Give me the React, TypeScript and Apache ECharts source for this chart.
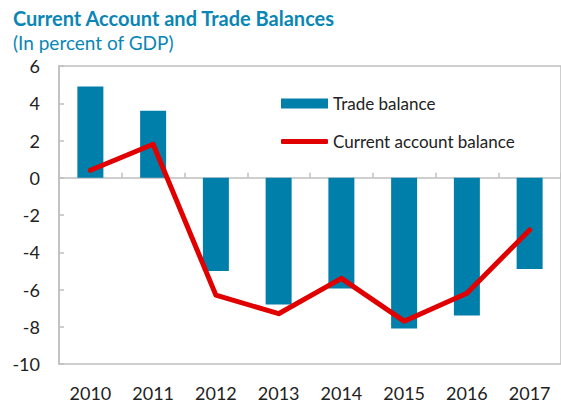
import React, { useEffect, useRef } from "react";
import * as echarts from "echarts";

const years = ["2010", "2011", "2012", "2013", "2014", "2015", "2016", "2017"];
const tradeBalance = [4.9, 3.6, -5.0, -6.8, -5.95, -8.1, -7.4, -4.9];
const currentAccount = [0.4, 1.8, -6.3, -7.3, -5.4, -7.7, -6.2, -2.8];

const FONT = "Lato, 'Open Sans', sans-serif";
const AXIS_GRAY = "#BFBFBF";
const BAR_BLUE = "#007FAA";
const LINE_RED = "#E00000";
const TITLE_BLUE = "#0A86B6";

export default function App() {
  const ref = useRef<HTMLDivElement>(null);

  useEffect(() => {
    if (!ref.current) return;
    const chart = echarts.init(ref.current, undefined, { renderer: "svg" });
    const legendText = { fontFamily: FONT, fontSize: 17, color: "#222" };
    chart.setOption({
      animation: false,
      backgroundColor: "#ffffff",
      textStyle: { fontFamily: FONT },
      title: {
        text: "Current Account and Trade Balances",
        subtext: "(In percent of GDP)",
        left: 8,
        top: 7,
        padding: [0, 5],
        itemGap: 3,
        textStyle: {
          fontFamily: FONT,
          fontSize: 20,
          fontWeight: "bold",
          color: TITLE_BLUE,
          lineHeight: 22,
        },
        subtextStyle: {
          fontFamily: FONT,
          fontSize: 19,
          color: TITLE_BLUE,
          lineHeight: 20,
        },
      },
      legend: [
        {
          left: 281,
          top: 95,
          padding: 0,
          itemWidth: 47,
          itemHeight: 10,
          textStyle: legendText,
          data: [{ name: "Trade balance", icon: "rect" }],
        },
        {
          left: 281,
          top: 133,
          padding: 0,
          itemWidth: 47,
          itemHeight: 5,
          textStyle: legendText,
          data: [{ name: "Current account balance", icon: "roundRect" }],
        },
      ],
      grid: {
        left: 59,
        top: 66,
        bottom: 39,
        right: -8,
        show: true,
        borderColor: AXIS_GRAY,
        borderWidth: 1.5,
        containLabel: false,
      },
      yAxis: {
        type: "value",
        min: -10,
        max: 6,
        interval: 2,
        axisLine: { show: true, lineStyle: { color: AXIS_GRAY, width: 1.5 } },
        axisTick: { show: true, inside: true, length: 5, lineStyle: { color: AXIS_GRAY, width: 1.5 } },
        splitLine: { show: false },
        axisLabel: { fontFamily: FONT, fontSize: 18, color: "#222", margin: 19 },
      },
      xAxis: [
        {
          type: "category",
          data: years,
          axisLine: { show: true, onZero: true, lineStyle: { color: AXIS_GRAY, width: 1.5 } },
          axisTick: { show: true, inside: true, length: 5, lineStyle: { color: AXIS_GRAY, width: 1.5 } },
          axisLabel: { show: false },
          splitLine: { show: false },
        },
        {
          type: "category",
          data: years,
          position: "bottom",
          axisLine: { show: false, onZero: false },
          axisTick: { show: false },
          axisLabel: { fontFamily: FONT, fontSize: 18, color: "#222", margin: 20 },
          splitLine: { show: false },
        },
      ],
      series: [
        {
          name: "Trade balance",
          type: "bar",
          xAxisIndex: 0,
          data: tradeBalance,
          barWidth: 26,
          itemStyle: { color: BAR_BLUE },
        },
        {
          name: "Current account balance",
          type: "line",
          xAxisIndex: 0,
          data: currentAccount,
          symbol: "none",
          showSymbol: false,
          lineStyle: { color: LINE_RED, width: 5, join: "round", cap: "round" },
          itemStyle: { color: LINE_RED },
        },
      ],
    });
    return () => chart.dispose();
  }, []);

  return (
    <div
      ref={ref}
      style={{ position: "absolute", left: 0, top: 0, width: 561, height: 403 }}
    />
  );
}
